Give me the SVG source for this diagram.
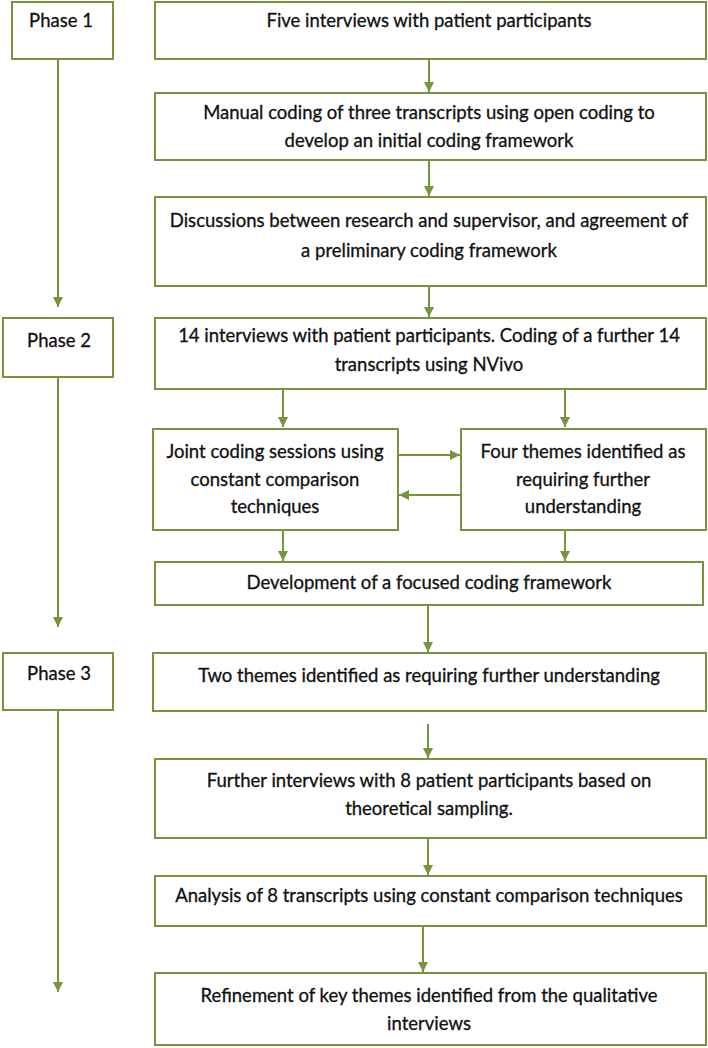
<svg xmlns="http://www.w3.org/2000/svg" width="708" height="1048" viewBox="0 0 708 1048">
<defs>
<style>
.box{fill:#ffffff;stroke:#77933C;stroke-width:2}
.t{font-family:Lato,"Liberation Sans",sans-serif;font-size:18.5px;fill:#111111;stroke:#111111;stroke-width:0.3;text-anchor:middle}
.c{stroke:#77933C;stroke-width:2;fill:none}
</style>
<marker id="ah" markerUnits="userSpaceOnUse" markerWidth="12" markerHeight="10" refX="10" refY="5" orient="auto">
<path d="M0,0 L10,5 L0,10 Z" fill="#77933C"/>
</marker>
</defs>
<rect width="708" height="1048" fill="#ffffff"/>
<g id="connectors">
<line class="c" x1="429" y1="59" x2="429" y2="92" marker-end="url(#ah)"/>
<line class="c" x1="429" y1="160" x2="429" y2="196" marker-end="url(#ah)"/>
<line class="c" x1="429" y1="286" x2="429" y2="317" marker-end="url(#ah)"/>
<line class="c" x1="58" y1="59" x2="58" y2="307" marker-end="url(#ah)"/>
<line class="c" x1="283" y1="389" x2="283" y2="427" marker-end="url(#ah)"/>
<line class="c" x1="565" y1="389" x2="565" y2="427" marker-end="url(#ah)"/>
<line class="c" x1="398" y1="455" x2="460" y2="455" marker-end="url(#ah)"/>
<line class="c" x1="461" y1="495" x2="399" y2="495" marker-end="url(#ah)"/>
<line class="c" x1="283" y1="530" x2="283" y2="561" marker-end="url(#ah)"/>
<line class="c" x1="565" y1="530" x2="565" y2="561" marker-end="url(#ah)"/>
<line class="c" x1="58" y1="377" x2="58" y2="627" marker-end="url(#ah)"/>
<line class="c" x1="428" y1="605" x2="428" y2="652" marker-end="url(#ah)"/>
<line class="c" x1="428" y1="724" x2="428" y2="758" marker-end="url(#ah)"/>
<line class="c" x1="428" y1="838" x2="428" y2="875" marker-end="url(#ah)"/>
<line class="c" x1="423" y1="926" x2="423" y2="972" marker-end="url(#ah)"/>
<line class="c" x1="58" y1="710" x2="58" y2="992" marker-end="url(#ah)"/>
</g>
<g id="phase1"><rect class="box" x="12" y="2" width="101" height="57"/><text class="t" x="61" y="27">Phase 1</text></g>
<g id="n1"><rect class="box" x="155" y="2" width="551" height="57"/><text class="t" x="429" y="27">Five interviews with patient participants</text></g>
<g id="n2"><rect class="box" x="155" y="93" width="551" height="67"/><text class="t" x="429" y="119">Manual coding of three transcripts using open coding to</text><text class="t" x="429" y="147">develop an initial coding framework</text></g>
<g id="n3"><rect class="box" x="155" y="197" width="551" height="89"/><text class="t" x="429" y="227">Discussions between research and supervisor, and agreement of</text><text class="t" x="429" y="257">a preliminary coding framework</text></g>
<g id="phase2"><rect class="box" x="3" y="318" width="110" height="59"/><text class="t" x="59" y="347">Phase 2</text></g>
<g id="n4"><rect class="box" x="155" y="318" width="551" height="71"/><text class="t" x="429" y="342">14 interviews with patient participants. Coding of a further 14</text><text class="t" x="429" y="371">transcripts using NVivo</text></g>
<g id="n5"><rect class="box" x="153" y="429" width="245" height="101"/><text class="t" x="275" y="458">Joint coding sessions using</text><text class="t" x="275" y="486">constant comparison</text><text class="t" x="275" y="513">techniques</text></g>
<g id="n6"><rect class="box" x="461" y="429" width="245" height="101"/><text class="t" x="583" y="458">Four themes identified as</text><text class="t" x="583" y="486">requiring further</text><text class="t" x="583" y="513">understanding</text></g>
<g id="n7"><rect class="box" x="155" y="562" width="548" height="43"/><text class="t" x="429" y="589">Development of a focused coding framework</text></g>
<g id="phase3"><rect class="box" x="3" y="653" width="110" height="57"/><text class="t" x="59" y="680">Phase 3</text></g>
<g id="n8"><rect class="box" x="153" y="653" width="553" height="58"/><text class="t" x="429" y="682">Two themes identified as requiring further understanding</text></g>
<g id="n9"><rect class="box" x="155" y="759" width="551" height="79"/><text class="t" x="429" y="787">Further interviews with 8 patient participants based on</text><text class="t" x="429" y="815">theoretical sampling.</text></g>
<g id="n10"><rect class="box" x="155" y="876" width="551" height="50"/><text class="t" x="429" y="902">Analysis of 8 transcripts using constant comparison techniques</text></g>
<g id="n11"><rect class="box" x="155" y="973" width="551" height="72"/><text class="t" x="429" y="1002">Refinement of key themes identified from the qualitative</text><text class="t" x="429" y="1030">interviews</text></g>
</svg>
